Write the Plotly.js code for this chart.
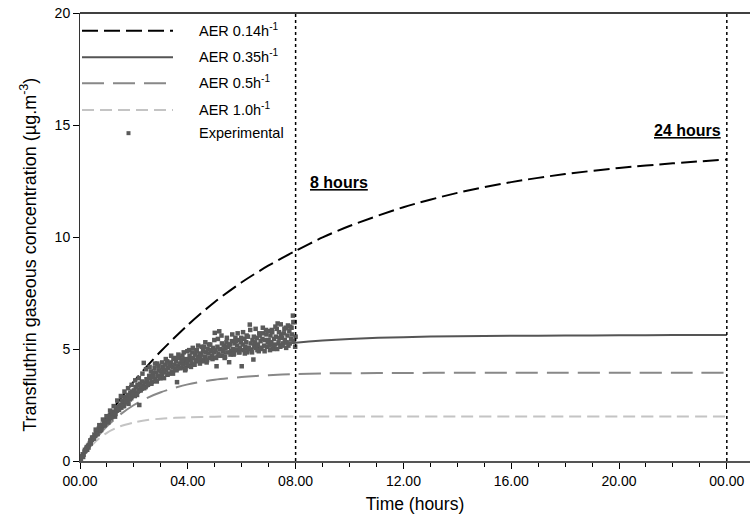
<!DOCTYPE html>
<html>
<head>
<meta charset="utf-8">
<script src="https://cdn.plot.ly/plotly-3.0.1.min.js"></script>
<style>html,body{margin:0;padding:0;background:#fff;}#chart{width:751px;height:528px;}</style>
</head>
<body>
<div id="chart"></div>
<script>
// Model curves (hours)
const tModel = [0,0.5,1,1.5,2,2.5,3,4,5,6,7,8,9,10,12,14,16,18,20,22,24];
const aer014 = [0,1.0,1.95,2.78,3.55,4.25,4.9,6.07,7.1,7.98,8.73,9.38,9.98,10.49,11.33,11.97,12.45,12.81,13.08,13.29,13.46];
const aer035 = [0,0.92,1.68,2.32,2.86,3.31,3.68,4.26,4.67,4.95,5.15,5.28,5.38,5.45,5.53,5.57,5.59,5.6,5.61,5.62,5.62];
const aer05  = [0,0.87,1.55,2.08,2.5,2.82,3.07,3.42,3.63,3.75,3.83,3.88,3.91,3.92,3.93,3.94,3.94,3.94,3.94,3.94,3.94];
const aer10  = [0,0.78,1.26,1.55,1.72,1.83,1.89,1.95,1.98,1.99,1.99,1.99,1.99,1.99,1.99,1.99,1.99,1.99,1.99,1.99,1.99];

// Experimental data, set A (even minutes)
const expMinA = [
0,2,4,6,8,10,12,14,16,18,20,22,24,26,28,
30,32,34,36,38,40,42,44,46,48,50,52,54,56,58,
60,62,64,66,68,70,72,74,76,78,80,82,84,86,88,
90,92,94,96,98,100,102,104,106,108,110,112,114,116,118,
120,122,124,126,128,130,132,134,136,138,140,142,144,146,148,
150,152,154,156,158,160,162,164,166,168,170,172,174,176,178,
180,182,184,186,188,190,192,194,196,198,200,202,204,206,208,
210,212,214,216,218,220,222,224,226,228,230,232,234,236,238,
240,242,244,246,248,250,252,254,256,258,260,262,264,266,268,
270,272,274,276,278,280,282,284,286,288,290,292,294,296,298,
300,302,304,306,308,310,312,314,316,318,320,322,324,326,328,
330,332,334,336,338,340,342,344,346,348,350,352,354,356,358,
360,362,364,366,368,370,372,374,376,378,380,382,384,386,388,
390,392,394,396,398,400,402,404,406,408,410,412,414,416,418,
420,422,424,426,428,430,432,434,436,438,440,442,444,446,448,
450,452,454,456,458,460,462,464,466,468,470,472,474,476,478,
480];
const expConcA = [
0.05,0.1,0.2,0.3,0.28,0.42,0.45,0.55,0.5,0.68,0.72,0.8,0.78,0.95,1.0,
1.05,1.18,1.12,1.3,1.25,1.38,1.45,1.35,1.55,1.5,1.62,1.58,1.72,1.65,1.8,
1.78,1.95,1.85,2.02,1.9,2.1,2.05,2.2,2.12,1.98,2.3,2.25,2.4,2.28,2.45,
2.5,2.38,2.7,2.6,2.45,2.85,2.65,2.75,2.95,2.55,2.9,3.05,2.8,3.1,2.95,
3.15,2.9,3.3,3.05,3.4,3.2,2.5,3.45,3.25,3.55,3.35,4.38,3.5,3.3,3.65,
3.6,3.45,3.8,3.7,4.0,3.55,3.85,3.75,4.15,3.65,3.95,4.35,3.8,4.05,3.7,
4.0,3.85,4.2,4.1,3.95,4.3,4.05,4.45,4.15,3.9,4.25,4.4,4.0,4.2,4.55,
4.3,4.1,4.45,3.52,4.25,4.6,4.35,4.15,4.5,4.7,4.3,4.4,4.05,4.55,4.35,
4.5,4.25,4.7,4.55,4.4,4.85,4.6,4.3,4.75,4.5,4.95,4.65,4.45,4.8,4.6,
4.75,4.5,4.9,5.1,4.65,4.85,4.4,5.0,4.8,4.6,5.2,4.9,4.7,5.05,4.85,
5.72,4.95,4.23,5.1,4.8,5.79,5.0,4.7,5.25,4.9,5.15,4.6,5.05,5.3,4.85,
5.1,4.41,5.2,4.9,5.35,5.0,4.75,5.25,5.5,4.95,5.15,5.4,4.85,5.05,5.3,
4.23,5.2,4.95,5.45,5.1,5.3,4.85,5.55,5.05,6.09,5.25,4.9,5.4,4.53,5.15,
5.3,5.05,5.5,5.2,4.9,5.6,5.35,5.0,5.45,5.7,5.15,5.4,5.85,5.1,5.3,
5.4,5.15,5.6,5.3,5.75,5.0,5.45,5.2,5.55,5.9,6.14,5.3,5.5,5.1,5.65,
5.5,5.25,5.7,5.4,5.95,5.3,5.6,5.15,5.8,6.0,5.45,5.65,6.49,5.35,6.2,
5.55];

// Experimental data, set B (every 4 minutes, offset)
const expMinB = [
3,7,11,15,19,23,27,31,35,39,43,47,51,55,59,
63,67,71,75,79,83,87,91,95,99,103,107,111,115,119,
123,127,131,135,139,143,147,151,155,159,163,167,171,175,179,
183,187,191,195,199,203,207,211,215,219,223,227,231,235,239,
243,247,251,255,259,263,267,271,275,279,283,287,291,295,299,
303,307,311,315,319,323,327,331,335,339,343,347,351,355,359,
363,367,371,375,379,383,387,391,395,399,403,407,411,415,419,
423,427,431,435,439,443,447,451,455,459,463,467,471,475,479];
const expConcB = [
0.2,0.18,0.5,0.62,0.6,0.92,1.05,1.0,1.4,1.2,1.6,1.38,1.85,1.6,2.0,
1.72,2.25,1.95,2.45,2.1,2.7,2.3,2.9,2.45,3.1,2.65,3.25,2.75,3.4,3.0,
3.6,2.95,3.7,3.15,3.9,3.25,4.1,3.4,4.2,3.45,3.95,4.35,3.55,4.25,3.7,
4.4,3.7,4.55,3.85,4.35,4.7,3.9,4.6,4.05,4.75,4.15,4.5,4.85,4.1,4.9,
4.95,4.2,5.05,4.3,4.9,5.15,4.35,5.1,4.45,5.3,4.5,5.2,4.95,4.55,5.4,
4.6,5.45,4.7,5.6,4.95,4.65,5.5,5.2,4.75,5.65,4.8,5.35,5.7,4.85,5.5,
5.75,4.8,5.6,5.0,5.85,4.85,5.55,5.9,4.95,5.7,5.05,5.95,4.9,5.65,5.8,
4.95,5.85,5.1,6.0,5.0,5.75,6.1,5.15,5.9,5.05,6.05,5.25,5.95,6.2,5.1];

const xTickVals = [0,4,8,12,16,20,24];
const xTickText = ["00.00","04.00","08.00","12.00","16.00","20.00","00.00"];
const yTickVals = [0,5,10,15,20];
const markTimes = [8,24];

const legendNames = ["AER 0.14h<sup>-1</sup>","AER 0.35h<sup>-1</sup>","AER 0.5h<sup>-1</sup>","AER 1.0h<sup>-1</sup>","Experimental"];

const FONT = "Liberation Sans, Arial, sans-serif";

const styles = [
  {color:"#000000", width:2, dash:"16px,6px"},
  {color:"#555555", width:2, dash:"solid"},
  {color:"#888888", width:2, dash:"22px,9px"},
  {color:"#c4c4c4", width:2, dash:"12px,6px"}
];
const series = [aer014, aer035, aer05, aer10];

const traces = [];
series.forEach((s,i) => {
  traces.push({x:tModel, y:s, mode:"lines", type:"scatter", line:{color:styles[i].color, width:styles[i].width, dash:styles[i].dash, shape:"spline", smoothing:0.8}, showlegend:false, name:legendNames[i]});
});
const expMin = expMinA.concat(expMinB);
const expConc = expConcA.concat(expConcB);
traces.push({
  x: expMin.map(m => m/60), y: expConc, mode:"markers", type:"scatter",
  marker:{symbol:"square", size:4.5, color:"#5a5a5a"}, showlegend:false, name:legendNames[4]
});

// plot area geometry (px)
const L = 80, T = 13, W = 670, H = 448.5;
const px2x = p => (p - L)/W;
const py2y = p => (T + H - p)/H;

const shapes = [];
markTimes.forEach(t => shapes.push({type:"line", xref:"x", yref:"y", x0:t, x1:t, y0:0, y1:20, line:{color:"#000", width:1.5, dash:"dot"}}));
const legY = [30.7, 57.3, 83.3, 110];
legY.forEach((yy,i) => {
  shapes.push({type:"line", xref:"paper", yref:"paper", x0:px2x(82), x1:px2x(173), y0:py2y(yy), y1:py2y(yy), line:{color:styles[i].color, width:2, dash:styles[i].dash}});
});
shapes.push({type:"rect", xref:"paper", yref:"paper", x0:px2x(126.5), x1:px2x(130.5), y0:py2y(135.3), y1:py2y(131.3), fillcolor:"#5a5a5a", line:{width:0}});

const annotations = [];
legY.concat([133.3]).forEach((yy,i) => {
  annotations.push({xref:"paper", yref:"paper", x:px2x(197), y:py2y(i<4 ? yy-1 : yy), xanchor:"left", yanchor:"middle", text:legendNames[i], showarrow:false, font:{family:FONT, size:14.5, color:"#000"}});
});
annotations.push({xref:"x", yref:"y", x:8.45, y:12.43, xanchor:"left", yanchor:"middle", text:"<b><u>8 hours</u></b>", showarrow:false, font:{family:FONT, size:16, color:"#000"}});
annotations.push({xref:"x", yref:"y", x:23.85, y:14.75, xanchor:"right", yanchor:"middle", text:"<b><u>24 hours</u></b>", showarrow:false, font:{family:FONT, size:16, color:"#000"}});
// y-axis title (placed to match the reference's off-centre position)
annotations.push({xref:"paper", yref:"paper", x:px2x(29), y:py2y(255), xanchor:"center", yanchor:"middle", textangle:-90, text:"Transfluthrin gaseous concentration (µg.m<sup>-3</sup>)", showarrow:false, font:{family:FONT, size:18, color:"#000"}});

const layout = {
  width:751, height:528,
  margin:{l:L, r:751-L-W, t:T, b:528-T-H},
  paper_bgcolor:"#fff", plot_bgcolor:"#fff",
  showlegend:false,
  xaxis:{
    range:[0, 24.86], tickmode:"array", tickvals:xTickVals, ticktext:xTickText,
    ticks:"outside", ticklen:6, tickwidth:1, tickcolor:"#000",
    minor:{dtick:1, tick0:0, ticks:"outside", ticklen:4, tickwidth:1, tickcolor:"#000", showgrid:false},
    showgrid:false, zeroline:false, showline:true, linecolor:"#555", linewidth:2, mirror:false,
    tickfont:{family:FONT, size:14, color:"#000"},
    title:{text:"Time (hours)", font:{family:FONT, size:17.5, color:"#000"}, standoff:10}
  },
  yaxis:{
    range:[0,20], tickmode:"array", tickvals:yTickVals,
    ticks:"outside", ticklen:6, tickwidth:1, tickcolor:"#000",
    showgrid:false, zeroline:false, showline:true, linecolor:"#333", linewidth:1,
    tickfont:{family:FONT, size:14, color:"#000"}
  },
  shapes: shapes.concat([{type:"line", xref:"paper", yref:"paper", x0:0, x1:1, y0:1, y1:1, line:{color:"#000", width:1.5}}]),
  annotations: annotations
};

Plotly.newPlot("chart", traces, layout, {staticPlot:true, displayModeBar:false});
</script>
</body>
</html>
